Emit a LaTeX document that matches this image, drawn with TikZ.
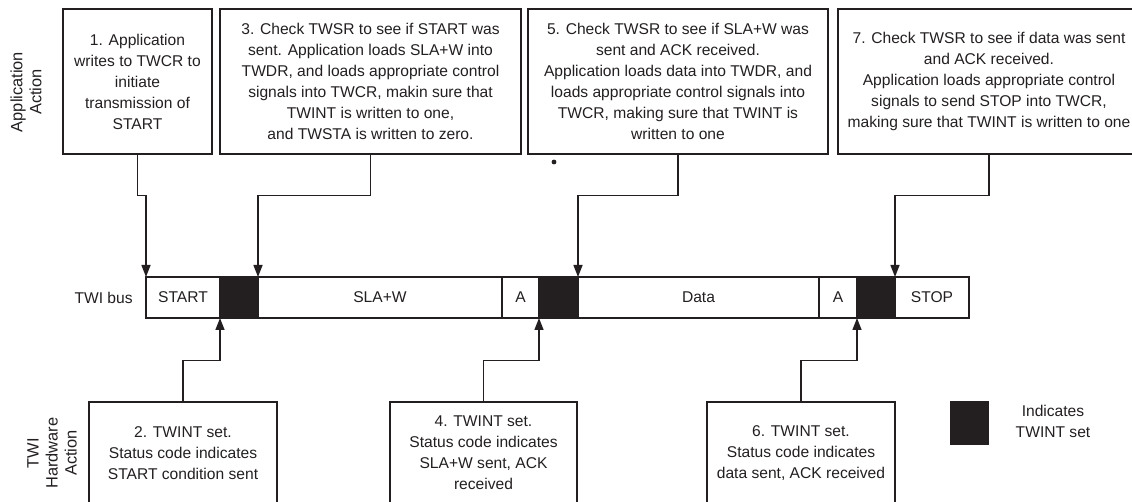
\documentclass[tikz,border=0pt]{standalone}
\usepackage{fontspec}
\setmainfont{Liberation Sans}
\usepackage{tikz}
\usetikzlibrary{arrows.meta, positioning}
\definecolor{mydark}{RGB}{35,31,32}
\tikzset{
  actbox/.style={rectangle, draw=mydark, text=mydark, align=center,
    line width=0.7pt, inner sep=0pt, font=\fontsize{7.8}{10.5}\selectfont},
  cell/.style={rectangle, draw=mydark, text=mydark, minimum height=20.5pt,
    line width=0.7pt, inner sep=0pt, outer sep=0pt, font=\fontsize{7.8}{10.5}\selectfont},
  twint/.style={cell, fill=mydark},
  arrow/.style={-{Triangle[length=6pt, width=4.5pt]}, line width=0.7pt, color=mydark},
  sidelabel/.style={rotate=90, align=center, text=mydark, inner sep=0pt,
    font=\fontsize{8.2}{9.5}\selectfont},
  plain/.style={align=center, text=mydark, inner sep=0pt, font=\fontsize{7.8}{10.5}\selectfont}
}
\begin{document}
\begin{tikzpicture}[x=0.5pt, y=-0.5pt]
  \useasboundingbox (0,0) rectangle (1132,502);
  \clip (0,0) rectangle (1132,502);

  \node[sidelabel] (applbl) at (26,92) {Application\\Action};
  \node[sidelabel] (hwlbl) at (52,453) {TWI\\Hardware\\Action};

  \node[actbox, minimum width=74.5pt, minimum height=72.5pt] (app1) at (137.5,81.5)
    {1. Application\\writes to TWCR to\\initiate\\transmission of\\START};
  \node[actbox, minimum width=150.5pt, minimum height=72.5pt] (app3) at (370.5,81.5)
    {3. Check TWSR to see if START was\\sent. Application loads SLA+W into\\TWDR, and loads appropriate control\\signals into TWCR, makin sure that\\TWINT is written to one,\\and TWSTA is written to zero.};
  \node[actbox, minimum width=150pt, minimum height=72.5pt] (app5) at (678,81.5)
    {5. Check TWSR to see if SLA+W was\\sent and ACK received.\\Application loads data into TWDR, and\\loads appropriate control signals into\\TWCR, making sure that TWINT is\\written to one};
  \node[actbox, minimum width=151pt, minimum height=72.5pt] (app7) at (989,81.5)
    {7. Check TWSR to see if data was sent\\and ACK received.\\Application loads appropriate control\\signals to send STOP into TWCR,\\making sure that TWINT is written to one};

  \node[cell, minimum width=37pt, anchor=north west] (start) at (146,277) {START};
  \node[twint, minimum width=19pt, right=0pt of start] (blk1) {};
  \node[cell, minimum width=122pt, right=0pt of blk1] (slaw) {SLA+W};
  \node[cell, minimum width=18.5pt, right=0pt of slaw] (ack1) {A};
  \node[twint, minimum width=19.5pt, right=0pt of ack1] (blk2) {};
  \node[cell, minimum width=120.5pt, right=0pt of blk2] (data) {Data};
  \node[cell, minimum width=19pt, right=0pt of data] (ack2) {A};
  \node[twint, minimum width=19pt, right=0pt of ack2] (blk3) {};
  \node[cell, minimum width=37pt, right=0pt of blk3] (stop) {STOP};
  \node[plain, left=6.5pt of start] (buslbl) {TWI bus};

  \node[actbox, minimum width=94pt, minimum height=51pt] (hw2) at (183,453)
    {2. TWINT set.\\Status code indicates\\START condition sent};
  \node[actbox, minimum width=93.5pt, minimum height=51pt] (hw4) at (483.5,453)
    {4. TWINT set.\\Status code indicates\\SLA+W sent, ACK\\received};
  \node[actbox, minimum width=94pt, minimum height=51pt] (hw6) at (801,453)
    {6. TWINT set.\\Status code indicates\\data sent, ACK received};

  \node[twint, minimum width=18.5pt, minimum height=21pt] (key) at (969.5,423) {};
  \node[plain] (keylbl) at (1053,421.5) {Indicates\\TWINT set};

  \draw[arrow] (app1.south) -- ++(0,41) -| (start.north west);
  \draw[arrow] (app3.south) -- ++(0,41) -| (blk1.north east);
  \draw[arrow] (app5.south) -- ++(0,41) -| (blk2.north east);
  \draw[arrow] (app7.south) -- ++(0,41) -| (blk3.north east);
  \draw[arrow] (hw2.north) -- ++(0,-41) -| (blk1.south west);
  \draw[arrow] (hw4.north) -- ++(0,-41) -| (blk2.south west);
  \draw[arrow] (hw6.north) -- ++(0,-41) -| (blk3.south west);

  \fill[mydark] (554,162) circle (1.2pt);
\end{tikzpicture}
\end{document}
